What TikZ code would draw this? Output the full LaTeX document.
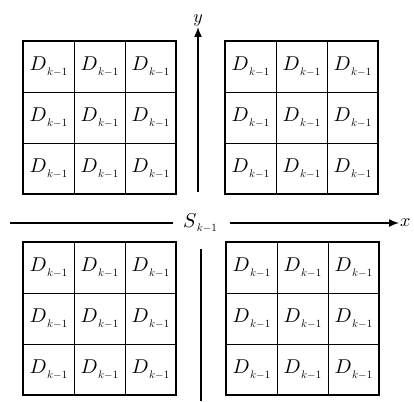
\documentclass[tikz,border=0pt]{standalone}
\usetikzlibrary{arrows.meta}
\newcommand\Sub{\raisebox{-4.5pt}{\scalebox{1.1}{$k{-}1$}}}
\newcommand\Dlab{\scalebox{2.0}{$D$}\kern0.3pt\Sub}
\tikzset{
  cell/.style={draw, line width=0.9pt, minimum size=51pt, inner sep=0pt, outer sep=0pt},
  border/.style={line width=2.4pt},
  axis/.style={line width=1.5pt},
  axlab/.style={inner sep=1pt}
}
\begin{document}
\begin{tikzpicture}[x=1pt,y=-1pt]
\useasboundingbox (0,0) rectangle (414,401);
\fill[white] (0,0) rectangle (414,401);
\foreach \nm/\ox/\oy in {TL/23/41, TR/225/41, BL/23/242, BR/226/242}{
  \foreach \r in {1,2,3}{
    \foreach \c in {1,2,3}{
      \node[cell] (\nm-\r-\c) at ({\ox+25.5+51*(\c-1)},{\oy+25.5+51*(\r-1)}) {\Dlab};
    }
  }
  \draw[border] (\nm-1-1.north west) rectangle (\nm-3-3.south east);
}
% y axis
\coordinate (y0) at (198,192);
\coordinate (y1) at (198,27);
\draw[axis,-{Latex[length=10pt,width=8pt]}] (y0) -- (y1);
\node[axlab, above] (ylab) at (y1) {\scalebox{1.8}{$y$}};
% lower vertical line
\coordinate (v0) at (201,249);
\coordinate (v1) at (201,401);
\draw[line width=1.2pt] (v0) -- (v1);
% x axis
\node (S) at (200,223) {\scalebox{2.0}{$S$}\kern0.3pt\Sub};
\coordinate (xa) at (10,223);
\coordinate (xb) at (173,223);
\coordinate (xc) at (230,223);
\coordinate (xd) at (399,223);
\draw[axis] (xa) -- (xb);
\draw[axis,-{Latex[length=10pt,width=8pt]}] (xc) -- (xd);
\node[axlab, right] (xlab) at (xd) {\scalebox{1.8}{$x$}};
\end{tikzpicture}
\end{document}
